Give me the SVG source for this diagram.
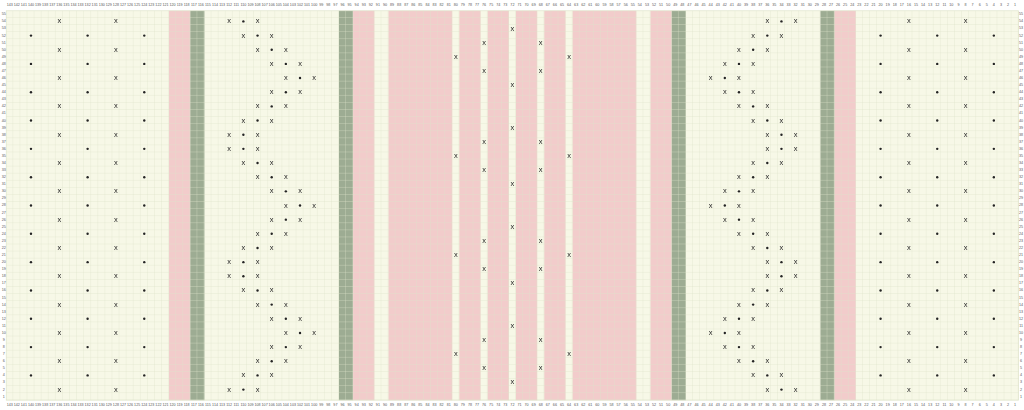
<svg xmlns="http://www.w3.org/2000/svg" xmlns:xlink="http://www.w3.org/1999/xlink" width="1024" height="410" viewBox="0 0 1024 410">
<style>
.lab{font-family:"Liberation Sans",Arial,sans-serif;font-size:0.52px;fill:#555;text-anchor:middle;dominant-baseline:central}
.x{font-family:"Liberation Sans",Arial,sans-serif;font-size:7.5px;fill:#222;text-anchor:middle}
.d{fill:#222}
.cr{fill:#f7f8e7}
.pk{fill:#f2cccb}
.gr{fill:#9dac93}
</style>
<defs>
<pattern id="grid" width="1" height="1" patternUnits="userSpaceOnUse">
<path d="M1 0V1H0" fill="none" stroke="#dde2c9" stroke-width="0.09"/>
</pattern>
<g id="zz"><text class="x" x="0" y="2">x</text><circle class="d" cx="14.16" cy="0" r="1.2"/><text class="x" x="28.32" y="2">x</text></g>
<g id="rowX"><text class="x" x="53.1" y="2">x</text><text class="x" x="109.74" y="2">x</text><text class="x" x="902.7" y="2">x</text><text class="x" x="959.34" y="2">x</text></g>
<g id="rowD"><circle class="d" cx="24.78" cy="0" r="1.2"/><circle class="d" cx="81.42" cy="0" r="1.2"/><circle class="d" cx="138.06" cy="0" r="1.2"/><circle class="d" cx="874.38" cy="0" r="1.2"/><circle class="d" cx="931.02" cy="0" r="1.2"/><circle class="d" cx="987.66" cy="0" r="1.2"/></g>
<g id="dia"><text class="x" x="506.22" y="-26.32">x</text><text class="x" x="506.22" y="30.32">x</text><text class="x" x="477.9" y="-12.16">x</text><text class="x" x="534.54" y="-12.16">x</text><text class="x" x="477.9" y="16.16">x</text><text class="x" x="534.54" y="16.16">x</text><text class="x" x="449.58" y="2">x</text><text class="x" x="562.86" y="2">x</text></g>
<g id="cn" class="lab">
<text y="0"><tspan x="0.5">143</tspan><tspan x="1.5">142</tspan><tspan x="2.5">141</tspan><tspan x="3.5">140</tspan><tspan x="4.5">139</tspan><tspan x="5.5">138</tspan><tspan x="6.5">137</tspan><tspan x="7.5">136</tspan><tspan x="8.5">135</tspan><tspan x="9.5">134</tspan><tspan x="10.5">133</tspan><tspan x="11.5">132</tspan><tspan x="12.5">131</tspan><tspan x="13.5">130</tspan><tspan x="14.5">129</tspan><tspan x="15.5">128</tspan><tspan x="16.5">127</tspan><tspan x="17.5">126</tspan><tspan x="18.5">125</tspan><tspan x="19.5">124</tspan><tspan x="20.5">123</tspan><tspan x="21.5">122</tspan><tspan x="22.5">121</tspan><tspan x="23.5">120</tspan><tspan x="24.5">119</tspan><tspan x="25.5">118</tspan><tspan x="26.5">117</tspan><tspan x="27.5">116</tspan><tspan x="28.5">115</tspan><tspan x="29.5">114</tspan><tspan x="30.5">113</tspan><tspan x="31.5">112</tspan><tspan x="32.5">111</tspan><tspan x="33.5">110</tspan><tspan x="34.5">109</tspan><tspan x="35.5">108</tspan><tspan x="36.5">107</tspan><tspan x="37.5">106</tspan><tspan x="38.5">105</tspan><tspan x="39.5">104</tspan><tspan x="40.5">103</tspan><tspan x="41.5">102</tspan><tspan x="42.5">101</tspan><tspan x="43.5">100</tspan><tspan x="44.5">99</tspan><tspan x="45.5">98</tspan><tspan x="46.5">97</tspan><tspan x="47.5">96</tspan><tspan x="48.5">95</tspan><tspan x="49.5">94</tspan><tspan x="50.5">93</tspan><tspan x="51.5">92</tspan><tspan x="52.5">91</tspan><tspan x="53.5">90</tspan><tspan x="54.5">89</tspan><tspan x="55.5">88</tspan><tspan x="56.5">87</tspan><tspan x="57.5">86</tspan><tspan x="58.5">85</tspan><tspan x="59.5">84</tspan><tspan x="60.5">83</tspan><tspan x="61.5">82</tspan><tspan x="62.5">81</tspan><tspan x="63.5">80</tspan><tspan x="64.5">79</tspan><tspan x="65.5">78</tspan><tspan x="66.5">77</tspan><tspan x="67.5">76</tspan><tspan x="68.5">75</tspan><tspan x="69.5">74</tspan><tspan x="70.5">73</tspan><tspan x="71.5">72</tspan><tspan x="72.5">71</tspan><tspan x="73.5">70</tspan><tspan x="74.5">69</tspan><tspan x="75.5">68</tspan><tspan x="76.5">67</tspan><tspan x="77.5">66</tspan><tspan x="78.5">65</tspan><tspan x="79.5">64</tspan><tspan x="80.5">63</tspan><tspan x="81.5">62</tspan><tspan x="82.5">61</tspan><tspan x="83.5">60</tspan><tspan x="84.5">59</tspan><tspan x="85.5">58</tspan><tspan x="86.5">57</tspan><tspan x="87.5">56</tspan><tspan x="88.5">55</tspan><tspan x="89.5">54</tspan><tspan x="90.5">53</tspan><tspan x="91.5">52</tspan><tspan x="92.5">51</tspan><tspan x="93.5">50</tspan><tspan x="94.5">49</tspan><tspan x="95.5">48</tspan><tspan x="96.5">47</tspan><tspan x="97.5">46</tspan><tspan x="98.5">45</tspan><tspan x="99.5">44</tspan><tspan x="100.5">43</tspan><tspan x="101.5">42</tspan><tspan x="102.5">41</tspan><tspan x="103.5">40</tspan><tspan x="104.5">39</tspan><tspan x="105.5">38</tspan><tspan x="106.5">37</tspan><tspan x="107.5">36</tspan><tspan x="108.5">35</tspan><tspan x="109.5">34</tspan><tspan x="110.5">33</tspan><tspan x="111.5">32</tspan><tspan x="112.5">31</tspan><tspan x="113.5">30</tspan><tspan x="114.5">29</tspan><tspan x="115.5">28</tspan><tspan x="116.5">27</tspan><tspan x="117.5">26</tspan><tspan x="118.5">25</tspan><tspan x="119.5">24</tspan><tspan x="120.5">23</tspan><tspan x="121.5">22</tspan><tspan x="122.5">21</tspan><tspan x="123.5">20</tspan><tspan x="124.5">19</tspan><tspan x="125.5">18</tspan><tspan x="126.5">17</tspan><tspan x="127.5">16</tspan><tspan x="128.5">15</tspan><tspan x="129.5">14</tspan><tspan x="130.5">13</tspan><tspan x="131.5">12</tspan><tspan x="132.5">11</tspan><tspan x="133.5">10</tspan><tspan x="134.5">9</tspan><tspan x="135.5">8</tspan><tspan x="136.5">7</tspan><tspan x="137.5">6</tspan><tspan x="138.5">5</tspan><tspan x="139.5">4</tspan><tspan x="140.5">3</tspan><tspan x="141.5">2</tspan><tspan x="142.5">1</tspan></text>
</g>
<g id="rn" class="lab">
<text x="0" y="0.5">55</text><text x="0" y="1.5">54</text><text x="0" y="2.5">53</text><text x="0" y="3.5">52</text><text x="0" y="4.5">51</text><text x="0" y="5.5">50</text><text x="0" y="6.5">49</text><text x="0" y="7.5">48</text><text x="0" y="8.5">47</text><text x="0" y="9.5">46</text><text x="0" y="10.5">45</text><text x="0" y="11.5">44</text><text x="0" y="12.5">43</text><text x="0" y="13.5">42</text><text x="0" y="14.5">41</text><text x="0" y="15.5">40</text><text x="0" y="16.5">39</text><text x="0" y="17.5">38</text><text x="0" y="18.5">37</text><text x="0" y="19.5">36</text><text x="0" y="20.5">35</text><text x="0" y="21.5">34</text><text x="0" y="22.5">33</text><text x="0" y="23.5">32</text><text x="0" y="24.5">31</text><text x="0" y="25.5">30</text><text x="0" y="26.5">29</text><text x="0" y="27.5">28</text><text x="0" y="28.5">27</text><text x="0" y="29.5">26</text><text x="0" y="30.5">25</text><text x="0" y="31.5">24</text><text x="0" y="32.5">23</text><text x="0" y="33.5">22</text><text x="0" y="34.5">21</text><text x="0" y="35.5">20</text><text x="0" y="36.5">19</text><text x="0" y="37.5">18</text><text x="0" y="38.5">17</text><text x="0" y="39.5">16</text><text x="0" y="40.5">15</text><text x="0" y="41.5">14</text><text x="0" y="42.5">13</text><text x="0" y="43.5">12</text><text x="0" y="44.5">11</text><text x="0" y="45.5">10</text><text x="0" y="46.5">9</text><text x="0" y="47.5">8</text><text x="0" y="48.5">7</text><text x="0" y="49.5">6</text><text x="0" y="50.5">5</text><text x="0" y="51.5">4</text><text x="0" y="52.5">3</text><text x="0" y="53.5">2</text><text x="0" y="54.5">1</text>
</g>
</defs>
<rect width="1024" height="410" fill="#ffffff"/>
<g id="chart" transform="translate(6.2,10.8) scale(7.08)">
<g id="fills">
<rect class="cr" x="0" y="0" width="143" height="55"/>
<rect class="pk" x="23" y="0" width="3" height="55"/>
<rect class="gr" x="26" y="0" width="2" height="55"/>
<rect class="gr" x="47" y="0" width="2" height="55"/>
<rect class="pk" x="49" y="0" width="3" height="55"/>
<rect class="pk" x="54" y="0" width="9" height="55"/>
<rect class="pk" x="64" y="0" width="3" height="55"/>
<rect class="pk" x="68" y="0" width="3" height="55"/>
<rect class="pk" x="72" y="0" width="3" height="55"/>
<rect class="pk" x="76" y="0" width="3" height="55"/>
<rect class="pk" x="80" y="0" width="9" height="55"/>
<rect class="pk" x="91" y="0" width="3" height="55"/>
<rect class="gr" x="94" y="0" width="2" height="55"/>
<rect class="gr" x="115" y="0" width="2" height="55"/>
<rect class="pk" x="117" y="0" width="3" height="55"/>
</g>
<rect id="gridlines" x="0" y="0" width="143" height="55" fill="url(#grid)" stroke="#dde2c9" stroke-width="0.09"/>
<g id="labels" opacity="0.99">
<use xlink:href="#cn" y="-0.82"/><use xlink:href="#cn" y="55.68"/>
<use xlink:href="#rn" x="-0.33"/><use xlink:href="#rn" x="143.35"/>
</g>
</g>
<g id="symbols" transform="translate(6.2,10.8)" opacity="0.99">
<g id="blocks">
<use xlink:href="#rowX" y="10.62"/><use xlink:href="#rowX" y="38.94"/><use xlink:href="#rowX" y="67.26"/><use xlink:href="#rowX" y="95.58"/><use xlink:href="#rowX" y="123.9"/><use xlink:href="#rowX" y="152.22"/><use xlink:href="#rowX" y="180.54"/><use xlink:href="#rowX" y="208.86"/><use xlink:href="#rowX" y="237.18"/><use xlink:href="#rowX" y="265.5"/><use xlink:href="#rowX" y="293.82"/><use xlink:href="#rowX" y="322.14"/><use xlink:href="#rowX" y="350.46"/><use xlink:href="#rowX" y="378.78"/>
<use xlink:href="#rowD" y="24.78"/><use xlink:href="#rowD" y="53.1"/><use xlink:href="#rowD" y="81.42"/><use xlink:href="#rowD" y="109.74"/><use xlink:href="#rowD" y="138.06"/><use xlink:href="#rowD" y="166.38"/><use xlink:href="#rowD" y="194.7"/><use xlink:href="#rowD" y="223.02"/><use xlink:href="#rowD" y="251.34"/><use xlink:href="#rowD" y="279.66"/><use xlink:href="#rowD" y="307.98"/><use xlink:href="#rowD" y="336.3"/><use xlink:href="#rowD" y="364.62"/>
</g>
<g id="diamonds">
<use xlink:href="#dia" y="46.02"/><use xlink:href="#dia" y="145.14"/><use xlink:href="#dia" y="244.26"/><use xlink:href="#dia" y="343.38"/>
</g>
<g id="zigzag">
<use xlink:href="#zz" x="223.02" y="10.62"/><use xlink:href="#zz" x="761.1" y="10.62"/>
<use xlink:href="#zz" x="237.18" y="24.78"/><use xlink:href="#zz" x="746.94" y="24.78"/>
<use xlink:href="#zz" x="251.34" y="38.94"/><use xlink:href="#zz" x="732.78" y="38.94"/>
<use xlink:href="#zz" x="265.5" y="53.1"/><use xlink:href="#zz" x="718.62" y="53.1"/>
<use xlink:href="#zz" x="279.66" y="67.26"/><use xlink:href="#zz" x="704.46" y="67.26"/>
<use xlink:href="#zz" x="265.5" y="81.42"/><use xlink:href="#zz" x="718.62" y="81.42"/>
<use xlink:href="#zz" x="251.34" y="95.58"/><use xlink:href="#zz" x="732.78" y="95.58"/>
<use xlink:href="#zz" x="237.18" y="109.74"/><use xlink:href="#zz" x="746.94" y="109.74"/>
<use xlink:href="#zz" x="223.02" y="123.9"/><use xlink:href="#zz" x="761.1" y="123.9"/>
<use xlink:href="#zz" x="223.02" y="138.06"/><use xlink:href="#zz" x="761.1" y="138.06"/>
<use xlink:href="#zz" x="237.18" y="152.22"/><use xlink:href="#zz" x="746.94" y="152.22"/>
<use xlink:href="#zz" x="251.34" y="166.38"/><use xlink:href="#zz" x="732.78" y="166.38"/>
<use xlink:href="#zz" x="265.5" y="180.54"/><use xlink:href="#zz" x="718.62" y="180.54"/>
<use xlink:href="#zz" x="279.66" y="194.7"/><use xlink:href="#zz" x="704.46" y="194.7"/>
<use xlink:href="#zz" x="265.5" y="208.86"/><use xlink:href="#zz" x="718.62" y="208.86"/>
<use xlink:href="#zz" x="251.34" y="223.02"/><use xlink:href="#zz" x="732.78" y="223.02"/>
<use xlink:href="#zz" x="237.18" y="237.18"/><use xlink:href="#zz" x="746.94" y="237.18"/>
<use xlink:href="#zz" x="223.02" y="251.34"/><use xlink:href="#zz" x="761.1" y="251.34"/>
<use xlink:href="#zz" x="223.02" y="265.5"/><use xlink:href="#zz" x="761.1" y="265.5"/>
<use xlink:href="#zz" x="237.18" y="279.66"/><use xlink:href="#zz" x="746.94" y="279.66"/>
<use xlink:href="#zz" x="251.34" y="293.82"/><use xlink:href="#zz" x="732.78" y="293.82"/>
<use xlink:href="#zz" x="265.5" y="307.98"/><use xlink:href="#zz" x="718.62" y="307.98"/>
<use xlink:href="#zz" x="279.66" y="322.14"/><use xlink:href="#zz" x="704.46" y="322.14"/>
<use xlink:href="#zz" x="265.5" y="336.3"/><use xlink:href="#zz" x="718.62" y="336.3"/>
<use xlink:href="#zz" x="251.34" y="350.46"/><use xlink:href="#zz" x="732.78" y="350.46"/>
<use xlink:href="#zz" x="237.18" y="364.62"/><use xlink:href="#zz" x="746.94" y="364.62"/>
<use xlink:href="#zz" x="223.02" y="378.78"/><use xlink:href="#zz" x="761.1" y="378.78"/>
</g>
</g>
</svg>
